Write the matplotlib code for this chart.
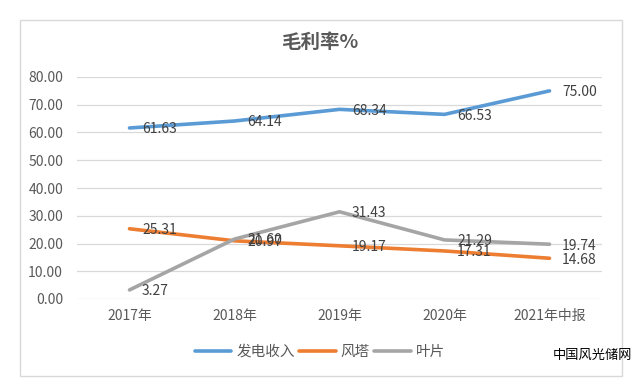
import matplotlib
matplotlib.use("Agg")
import matplotlib.pyplot as plt
from matplotlib.patches import Rectangle
import numpy as np

plt.rcParams['font.family'] = ['Noto Sans CJK SC', 'DejaVu Sans']

# data
categories = ["2017年", "2018年", "2019年", "2020年", "2021年中报"]
power_rev = [61.63, 64.14, 68.34, 66.53, 75.00]
tower = [25.31, 20.97, 19.17, 17.31, 14.68]
blade = [3.27, 21.60, 31.43, 21.29, 19.74]
series_names = ["发电收入", "风塔", "叶片"]
yticks = [0, 10, 20, 30, 40, 50, 60, 70, 80]

colors = ["#5B9BD5", "#ED7D31", "#A5A5A5"]
text_col = "#595959"
label_col = "#404040"

fig = plt.figure(figsize=(6.35, 3.85), dpi=100)
W, H = 635, 385
# outer chart frame
fig.patches.append(Rectangle((20 / W, 1 - 376 / H), 602 / W, 356 / H,
                             transform=fig.transFigure, fill=False,
                             edgecolor="#D9D9D9", linewidth=1))

ax = fig.add_axes([77 / W, 1 - 299 / H, 525 / W, 222 / H])
x = np.arange(len(categories))
for vals, c, name in zip([power_rev, tower, blade], colors, series_names):
    ax.plot(x, vals, color=c, linewidth=2.6, label=name, solid_capstyle="round")

for vals in [power_rev, tower, blade]:
    for xi, v in zip(x, vals):
        ax.annotate(f"{v:.2f}", (xi, v), xytext=(9, -1), textcoords="offset points",
                    ha="left", va="center", fontsize=10, color=label_col)

ax.set_xlim(-0.5, len(categories) - 0.5)
ax.set_ylim(0, 80)
ax.set_yticks(yticks)
ax.set_yticklabels([f"{t:.2f}" for t in yticks])
ax.set_xticks(x)
ax.set_xticklabels(categories)
ax.tick_params(axis="both", length=0, labelsize=10, colors=text_col)
ax.tick_params(axis="y", pad=10)
ax.tick_params(axis="x", pad=7)
ax.grid(axis="y", color="#D9D9D9", linewidth=0.9)
ax.set_axisbelow(True)
for s in ax.spines.values():
    s.set_visible(False)

fig.text(320 / W, 1 - 42 / H, "毛利率%", ha="center", va="center",
         fontsize=14, fontweight="bold", color=text_col)

fig.legend(loc="center", bbox_to_anchor=(320 / W, 1 - 352 / H), ncol=3, frameon=False,
           fontsize=10.5, handlelength=2.5, columnspacing=0.3, handletextpad=0.35,
           labelcolor=text_col)

fig.text(592 / W, 1 - 355 / H, "中国风光储网", ha="center", va="center",
         fontsize=9.5, color="black")

fig.savefig("out.png", dpi=100)
